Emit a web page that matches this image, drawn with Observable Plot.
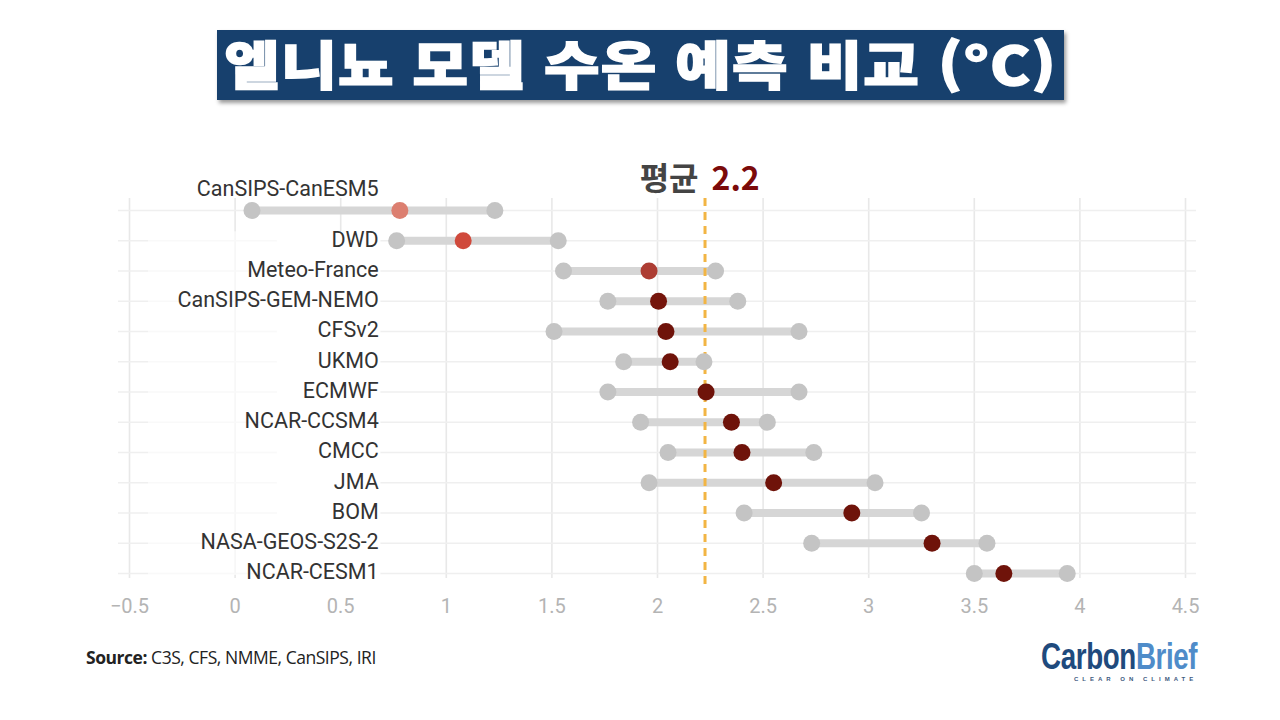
<!DOCTYPE html>
<html lang="ko"><head><meta charset="utf-8">
<script src="https://cdn.jsdelivr.net/npm/d3@7"></script>
<script src="https://cdn.jsdelivr.net/npm/@observablehq/plot@0.6"></script>
<style>
html,body{margin:0;padding:0;background:#fff;width:1280px;height:720px;overflow:hidden}
#head{position:relative;height:150px}
#title{position:absolute;left:217px;top:30px;width:847px;height:70px;background:#17406d;box-shadow:2px 3px 4px rgba(0,0,0,.4);color:#fff;
 font:900 52px "Noto Sans CJK KR";line-height:66px;text-align:center;white-space:nowrap;-webkit-text-stroke:1.5px #fff;letter-spacing:1px}
#title span{display:inline-block;transform:scaleX(1.16)}
#chart{height:475px}
#chart svg{display:block}
#foot{position:relative;height:95px}
#source{position:absolute;left:86px;top:20px;font:17.5px "Open Sans";color:#222;letter-spacing:-.46px;white-space:nowrap}
#logo{position:absolute;left:1041px;top:12px;font:700 37px "Liberation Sans";white-space:nowrap;letter-spacing:-.5px;line-height:40px;transform-origin:0 0;transform:scaleX(.75)}
#tag{position:absolute;left:1074px;top:51px;font:700 6px "Liberation Sans";letter-spacing:4px;color:#3d5a80;white-space:nowrap}
</style></head><body>
<div id="head"><div id="title"><span>엘니뇨 모델 수온 예측 비교 (°C)</span></div></div>
<div id="chart"></div>
<div id="foot">
<div id="source"><b>Source:</b> C3S, CFS, NMME, CanSIPS, IRI</div>
<div id="logo"><span style="color:#1f4a7d">Carbon</span><span style="color:#4f8cc9">Brief</span></div>
<div id="tag">CLEAR ON CLIMATE</div>
</div>
<script>
const models = ["CanSIPS-CanESM5","DWD","Meteo-France","CanSIPS-GEM-NEMO","CFSv2","UKMO","ECMWF","NCAR-CCSM4","CMCC","JMA","BOM","NASA-GEOS-S2S-2","NCAR-CESM1"];
const lows  = [0.08,0.765,1.555,1.765,1.51,1.84,1.765,1.92,2.05,1.96,2.41,2.73,3.50];
const means = [0.78,1.08,1.96,2.005,2.04,2.06,2.23,2.35,2.40,2.55,2.92,3.30,3.64];
const highs = [1.23,1.53,2.275,2.38,2.67,2.22,2.67,2.52,2.74,3.03,3.25,3.56,3.94];
const meanColors = ["#dc7f70","#d04a3c","#ad3d33","#75150c","#6f130a","#6f130a","#6f130a","#6f130a","#6f130a","#6f130a","#6f130a","#6f130a","#6f130a"];
const xTicks = [-0.5,0,0.5,1,1.5,2,2.5,3,3.5,4,4.5];
const average = 2.225;
const averageLabel = "2.2";
const averageWord = "평균";
const labelX = 0.68;

const rows = models.map((model,i)=>({model,low:lows[i],mean:means[i],high:highs[i],color:meanColors[i]}));
const font = "Roboto";
const lastModel = models[models.length-1];

const plot = Plot.plot({
  width:1280, height:475,
  marginLeft:118, marginRight:84, marginTop:48, marginBottom:47,
  x:{domain:[-0.5,4.5], range:[129,1185]},
  y:{type:"point", domain:models, range:[60,423], padding:0, round:false},
  style:{fontFamily:font, background:"transparent"},
  marks:[
    Plot.gridX(xTicks,{stroke:"#e8e8e8",strokeOpacity:1,strokeWidth:1.6}),
    Plot.ruleY(models,{y:d=>d,stroke:"#efefef",strokeWidth:1.6}),
    // faded strip behind the model names
    Plot.rect([{}],{x1:()=>-0.41,x2:()=>0.69,y1:()=>models[1],y2:()=>lastModel,fill:"#fff",fillOpacity:.6,insetTop:-9,insetBottom:-2}),
    Plot.rect([{}],{x1:()=>0.2,x2:()=>0.69,y1:()=>models[1],y2:()=>lastModel,fill:"#fff",insetTop:-9,insetBottom:-2}),
    Plot.axisX({ticks:xTicks,tickSize:0,tickPadding:20,label:null,fontSize:20,fill:"#b4b4b4",tickFormat:d=>d<0?"\u2212"+Math.abs(d):String(d)}),
    Plot.axisY({ticks:[],label:null,tickSize:0}),
    Plot.text(rows.slice(1),{x:()=>labelX,y:"model",text:"model",textAnchor:"end",fontSize:21.5,fill:"#333",dy:-1}),
    Plot.text(rows.slice(0,1),{x:()=>labelX,y:"model",text:"model",textAnchor:"end",fontSize:21.5,fill:"#333",dy:-21}),
    Plot.ruleY(rows,{y:"model",x1:"low",x2:"high",stroke:"#d6d6d6",strokeWidth:8}),
    Plot.ruleX([average],{stroke:"#f2b544",strokeWidth:3,strokeDasharray:"8 6",insetBottom:-8}),
    Plot.dot(rows,{x:"low",y:"model",r:8.5,fill:"#c4c4c4"}),
    Plot.dot(rows,{x:"high",y:"model",r:8.5,fill:"#c4c4c4"}),
    Plot.dot(rows,{x:"mean",y:"model",r:8.5,fill:"color"}),
    Plot.text([average],{x:d=>d,frameAnchor:"top",dy:-9,dx:-6.5,text:()=>averageWord,textAnchor:"end",fontFamily:"Noto Sans CJK KR",fontWeight:700,fontSize:32,fill:"#444",lineAnchor:"bottom"}),
    Plot.text([average],{x:d=>d,frameAnchor:"top",dy:-9,dx:6.5,text:()=>averageLabel,textAnchor:"start",fontFamily:"Noto Sans CJK KR",fontWeight:700,fontSize:32,fill:"#7b0a0a",lineAnchor:"bottom"})
  ]
});
document.getElementById("chart").append(plot);
</script></body></html>
